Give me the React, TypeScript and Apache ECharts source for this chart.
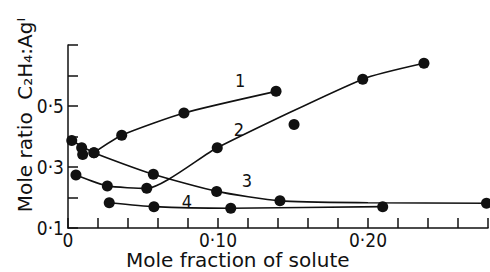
import React, { useEffect, useRef } from "react";
import * as echarts from "echarts";

// measured points (x: mole fraction of solute, y: mole ratio)
const curve1Points: [number, number][] = [
  [0.0173, 0.347], [0.0358, 0.404], [0.0773, 0.477], [0.1387, 0.548],
];
const curve2Points: [number, number][] = [
  [0.0053, 0.274], [0.0262, 0.238], [0.0525, 0.23], [0.0995, 0.363],
  [0.1507, 0.439], [0.1965, 0.588], [0.2373, 0.64],
];
const curve3Points: [number, number][] = [
  [0.0025, 0.387], [0.0091, 0.363], [0.0098, 0.341], [0.0173, 0.347],
  [0.0569, 0.276], [0.0991, 0.22], [0.1413, 0.189], [0.279, 0.181],
];
const curve4Points: [number, number][] = [
  [0.0275, 0.183], [0.0573, 0.17], [0.1085, 0.165], [0.2098, 0.17],
];

// hand-drawn curve nodes
const curve1Line: [number, number][] = [
  [0.0173, 0.347], [0.0358, 0.404], [0.0773, 0.477], [0.1387, 0.548],
];
const curve2Line: [number, number][] = [
  [0.0053, 0.274], [0.0262, 0.238], [0.0525, 0.23], [0.0995, 0.363],
  [0.1965, 0.588], [0.2373, 0.64],
];
const curve3Line: [number, number][] = [
  [0.0025, 0.387], [0.0173, 0.347], [0.0569, 0.276], [0.0991, 0.22],
  [0.1413, 0.189], [0.2, 0.183], [0.279, 0.181],
];
const curve4Line: [number, number][] = [
  [0.0275, 0.183], [0.0573, 0.17], [0.1085, 0.165], [0.2098, 0.17],
];

const curveNames = ["1", "2", "3", "4"];
const curveLabelPos: [number, number][] = [
  [0.1147, 0.584], [0.114, 0.4245], [0.1193, 0.257], [0.0793, 0.188],
];

const xTickValues = [0, 0.02, 0.04, 0.06, 0.08, 0.1, 0.12, 0.14, 0.16, 0.18, 0.2, 0.22, 0.24, 0.26, 0.28];
const xLabelValues = [0, 0.1, 0.2];
const xLabelTexts = ["0", "0·10", "0·20"];
const yTickValues = [0.1, 0.2, 0.3, 0.4, 0.5, 0.6, 0.7];
const yLabelValues = [0.1, 0.3, 0.5];
const yLabelTexts = ["0·1", "0·3", "0·5"];

const xTitle = "Mole fraction of solute";
const yTitle = "Mole ratio  C₂H₄:Agᴵ";

const X_MIN = 0;
const X_MAX = 0.28;
const Y_MIN = 0.1;
const Y_MAX = 0.7;

const INK = "#111111";
const NARROW = "'Liberation Sans Narrow', 'DejaVu Sans Condensed', 'Liberation Sans', sans-serif";
const WIDE = "'DejaVu Sans', 'Liberation Sans', sans-serif";
const TICK_LEN = 10;

const labelFor = (values: number[], texts: string[]) => (v: number) => {
  const i = values.findIndex((u) => Math.abs(u - v) < 1e-6);
  return i >= 0 ? texts[i] : "";
};

export default function App() {
  const ref = useRef<HTMLDivElement>(null);
  useEffect(() => {
    if (!ref.current) return;
    document.body.style.margin = "0";
    const chart = echarts.init(ref.current, undefined, { renderer: "svg" });
    const lineSeries = (data: [number, number][]) => ({
      type: "line",
      data,
      smooth: 0.2,
      symbol: "none",
      lineStyle: { color: INK, width: 1.6 },
      silent: true,
      z: 2,
    });
    const pointSeries = (data: [number, number][]) => ({
      type: "scatter",
      data,
      symbol: "circle",
      symbolSize: 11,
      itemStyle: { color: INK, opacity: 1 },
      silent: true,
      z: 3,
    });
    chart.setOption({
      animation: false,
      grid: { left: 68, right: 2, top: 45, bottom: 44 },
      xAxis: {
        type: "value",
        min: X_MIN,
        max: X_MAX,
        interval: 0.02,
        axisLine: { show: true, lineStyle: { color: INK, width: 1.5 } },
        axisTick: {
          show: true,
          inside: true,
          length: TICK_LEN,
          customValues: xTickValues,
          lineStyle: { color: INK, width: 1.5 },
        },
        splitLine: { show: false },
        axisLabel: {
          margin: 4,
          color: INK,
          fontSize: 19,
          lineHeight: 16,
          fontFamily: NARROW,
          customValues: xLabelValues,
          formatter: labelFor(xLabelValues, xLabelTexts),
        },
      },
      yAxis: {
        type: "value",
        min: Y_MIN,
        max: Y_MAX,
        interval: 0.1,
        axisLine: { show: true, lineStyle: { color: INK, width: 1.5 } },
        axisTick: {
          show: true,
          inside: true,
          length: TICK_LEN,
          customValues: yTickValues,
          lineStyle: { color: INK, width: 1.5 },
        },
        splitLine: { show: false },
        axisLabel: {
          margin: 4,
          color: INK,
          fontSize: 19,
          fontFamily: NARROW,
          customValues: yLabelValues,
          formatter: labelFor(yLabelValues, yLabelTexts),
        },
      },
      graphic: [
        {
          type: "text",
          left: 126,
          top: 250,
          style: { text: xTitle, fill: INK, font: `20px ${WIDE}`, lineHeight: 18 },
        },
        {
          type: "text",
          x: 25,
          y: 115,
          rotation: Math.PI / 2,
          style: {
            text: yTitle,
            fill: INK,
            font: `20px ${WIDE}`,
            align: "center",
            verticalAlign: "middle",
          },
        },
      ],
      series: [
        lineSeries(curve1Line),
        lineSeries(curve2Line),
        lineSeries(curve3Line),
        lineSeries(curve4Line),
        pointSeries(curve1Points),
        pointSeries(curve2Points),
        pointSeries(curve3Points),
        pointSeries(curve4Points),
        {
          type: "scatter",
          symbolSize: 0,
          silent: true,
          itemStyle: { opacity: 1 },
          data: curveLabelPos.map((p, i) => ({ name: curveNames[i], value: p })),
          label: {
            show: true,
            position: "inside",
            formatter: (p: any) => p.name,
            color: INK,
            fontSize: 18,
            fontFamily: NARROW,
          },
          z: 4,
        },
      ],
    });
    return () => chart.dispose();
  }, []);
  return <div ref={ref} style={{ width: 490, height: 272 }} />;
}
